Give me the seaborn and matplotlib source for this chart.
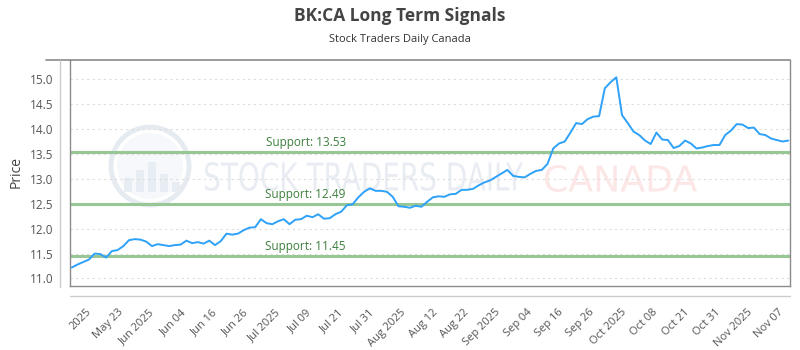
import numpy as np
import pandas as pd
import matplotlib
matplotlib.use("Agg")
import matplotlib.pyplot as plt
import seaborn as sns
from matplotlib.lines import Line2D
from matplotlib.patches import Ellipse, PathPatch, Rectangle
from matplotlib.textpath import TextPath
from matplotlib.font_manager import FontProperties
from matplotlib.transforms import Affine2D

# closing prices, one per trading day
prices = [
    11.22, 11.28, 11.33, 11.38, 11.50, 11.49, 11.42, 11.55, 11.57, 11.65,
    11.77, 11.79, 11.78, 11.74, 11.65, 11.69, 11.67, 11.65, 11.67, 11.68,
    11.76, 11.71, 11.73, 11.70, 11.76, 11.67, 11.75, 11.90, 11.88, 11.90,
    11.97, 12.02, 12.03, 12.19, 12.11, 12.09, 12.15, 12.19, 12.09, 12.18,
    12.19, 12.26, 12.23, 12.29, 12.20, 12.21, 12.29, 12.34, 12.47, 12.49,
    12.63, 12.74, 12.81, 12.76, 12.76, 12.74, 12.64, 12.45, 12.44, 12.42,
    12.46, 12.44, 12.54, 12.63, 12.65, 12.64, 12.69, 12.70, 12.78, 12.78,
    12.80, 12.87, 12.93, 12.97, 13.04, 13.11, 13.18, 13.06, 13.04, 13.03,
    13.10, 13.16, 13.18, 13.30, 13.61, 13.71, 13.75, 13.93, 14.12, 14.10,
    14.20, 14.25, 14.26, 14.82, 14.94, 15.04, 14.28, 14.12, 13.95, 13.88,
    13.77, 13.70, 13.93, 13.79, 13.78, 13.62, 13.66, 13.77, 13.71, 13.61,
    13.63, 13.66, 13.68, 13.68, 13.88, 13.97, 14.10, 14.09, 14.02, 14.03,
    13.90, 13.88, 13.81, 13.78, 13.75, 13.77,
]
supports = [13.53, 12.49, 11.45]
tick_labels = [
    "2025", "May 23", "Jun 2025", "Jun 04", "Jun 16", "Jun 26", "Jul 2025",
    "Jul 09", "Jul 21", "Jul 31", "Aug 2025", "Aug 12", "Aug 22", "Sep 2025",
    "Sep 04", "Sep 16", "Sep 26", "Oct 2025", "Oct 08", "Oct 21", "Oct 31",
    "Nov 2025", "Nov 07",
]
y_ticks = [11.0, 11.5, 12.0, 12.5, 13.0, 13.5, 14.0, 14.5, 15.0]

df = pd.DataFrame({"day": np.arange(len(prices)), "price": prices})

sns.set_style("white")
plt.rcParams["font.family"] = ["Open Sans", "DejaVu Sans"]

W, H = 800, 350
fig = plt.figure(figsize=(8, 3.5), dpi=100)
ax = fig.add_axes([0.0875, 0.183, 0.9, 0.646])
ax.patch.set_alpha(0)


def squeezed_text(text, x0, x1, ytop, ybot, color):
    # watermark words squeezed into a pixel box (condensed look)
    path = TextPath((0, 0), text, size=1, prop=FontProperties(family="DejaVu Sans"))
    ext = path.get_extents()
    sx = (x1 - x0) / ext.width
    sy = (ybot - ytop) / ext.height
    tr = Affine2D().translate(-ext.x0, -ext.y0).scale(sx, sy).translate(x0, H - ybot)
    fig.add_artist(PathPatch(tr.transform_path(path), transform=None, fc=color,
                             ec="none", zorder=-1))


# watermark
fig.add_artist(Ellipse((150 / W, 1 - 166 / H), 78 / W, 78 / H,
                       transform=fig.transFigure, fill=False, lw=3.5,
                       ec="#e6ebf2", zorder=-1))
fig.add_artist(Ellipse((150 / W, 1 - 166 / H), 66 / W, 66 / H,
                       transform=fig.transFigure, fc="#f6f8fb", ec="none",
                       zorder=-1))
for bx, bh in [(124, 14), (136, 22), (148, 30), (160, 18), (172, 10)]:
    fig.add_artist(Rectangle((bx / W, 1 - 192 / H), 8 / W, bh / H,
                             transform=fig.transFigure, fc="#e8edf4",
                             ec="none", zorder=-1))
squeezed_text("STOCK TRADERS DAILY", 205, 523, 162, 191, "#e9edf3")
squeezed_text("CANADA", 545, 697, 165, 192, "#fce6e6")

for s in supports:
    ax.axhline(s, color="#97c794", lw=2.2, zorder=1)
    ax.text(40.8, s + 0.07, f"Support: {s:.2f}", color="#3d7f3d", fontsize=8.5,
            ha="center", va="bottom", zorder=2)

sns.lineplot(df, x="day", y="price", color="#2ea1f8", lw=1.4, ax=ax, zorder=3)

ax.set_xlim(-0.3, len(prices) - 0.7)
ax.set_ylim(10.85, 15.39)
ax.set_yticks(y_ticks)
ax.set_yticklabels([f"{v:.1f}" for v in y_ticks])
ax.set_xticks(np.linspace(2.5, 123.2, len(tick_labels)))
ax.set_xticklabels(tick_labels, rotation=45, ha="right", rotation_mode="anchor")
ax.tick_params(axis="both", length=0, labelsize=8.5, labelcolor="#555555")
ax.tick_params(axis="x", labelsize=8, pad=15)
ax.tick_params(axis="y", pad=12)
ax.yaxis.grid(True, ls=(0, (2, 3)), color="#dddddd", lw=0.8)
ax.set_axisbelow(True)
ax.set(xlabel="", ylabel="")

for sp in ax.spines.values():
    sp.set_color("#8a8a8a")
    sp.set_linewidth(1.0)
ax.spines["top"].set_visible(False)

# outer axis borders
fig.add_artist(Line2D([46 / W, 790 / W], [0.829, 0.829], color="#8a8a8a", lw=1.2))
fig.add_artist(Line2D([60 / W, 60 / W], [0.18, 0.829], color="#cccccc", lw=1.0))
fig.add_artist(Line2D([70 / W, 790 / W], [0.154, 0.154], color="#cccccc", lw=1.0))

fig.text(16 / W, 1 - 172 / H, "Price", rotation=90, ha="center", va="center",
         fontsize=10, color="#444444")
fig.text(0.5, 0.955, "BK:CA Long Term Signals", ha="center", va="center",
         fontsize=12.5, fontweight="bold", color="#444444")
fig.text(0.5, 0.886, "Stock Traders Daily Canada", ha="center", va="center",
         fontsize=8, color="#333333")

fig.savefig("out.png", dpi=100)
